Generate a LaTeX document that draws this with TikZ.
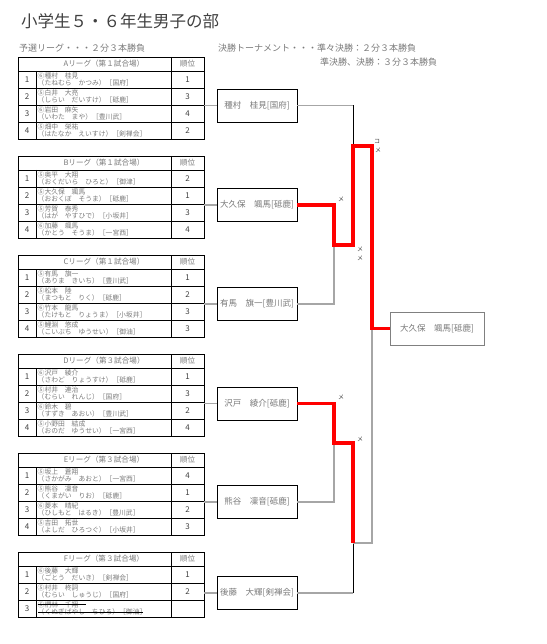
\documentclass[tikz,border=0pt]{standalone}
\usepackage{fontspec}
\setmainfont{Noto Sans CJK JP}
\usetikzlibrary{positioning}
\definecolor{txt}{HTML}{7A7A7A}
\definecolor{dtxt}{HTML}{404040}
\definecolor{lgray}{HTML}{A6A6A6}
\tikzset{>=stealth,
  tbl/.style={line width=0.6pt},
  hd/.style={text=txt, font=\fontsize{7.6}{8}\selectfont, inner sep=0pt},
  num/.style={text=dtxt, font=\fontsize{8}{8}\selectfont, inner sep=0pt},
  pname/.style={text=txt, align=left, font=\fontsize{6.8}{7.6}\selectfont, inner sep=0.5pt, anchor=west},
  pbox/.style={draw, line width=0.7pt, minimum width=80pt, minimum height=33pt, inner sep=0pt, text=txt, font=\fontsize{8.5}{9}\selectfont},
  lose/.style={line width=1.3pt, draw=lgray},
  win/.style={line width=3.3pt, draw=red},
  mk/.style={text=dtxt, font=\fontsize{6}{6}\selectfont, inner sep=0pt}}

\newcommand{\lghead}[3]{%
  \draw[tbl] (18,#2) rectangle (204,#2+14);
  \draw[tbl] (171,#2) -- (171,#2+14);
  \node[hd] (#1hd) at (104,#2+7) {#1リーグ（第#3試合場）};
  \node[hd] (#1rk) at (187.5,#2+7) {順位};}
\newcommand{\plrow}[7]{%
  \pgfmathsetmacro{\ry}{#2+14+17*(#3-1)}
  \draw[tbl] (18,\ry) rectangle (204,\ry+17);
  \draw[tbl] (36,\ry) -- (36,\ry+17) (171,\ry) -- (171,\ry+17);
  \node[num] (#1#3no) at (27,\ry+8.5) {#3};
  \node[pname] (#1#3nm) at (37,\ry+8.5) {#4\\（#5）［#6］};
  \node[num] (#1#3rk) at (187.5,\ry+8.5) {#7};}

\begin{document}
\begin{tikzpicture}[x=1pt, y=-1pt]
    \useasboundingbox (0,0) rectangle (546,644);
    \node[anchor=west, text=dtxt, font=\fontsize{16.5}{18}\selectfont, inner sep=0pt] (title) at (21,21) {小学生５・６年生男子の部};
    \node[anchor=west, text=txt, font=\fontsize{9}{9}\selectfont, inner sep=0pt] (sub1) at (19,48) {予選リーグ・・・２分３本勝負};
    \node[anchor=west, text=txt, font=\fontsize{9}{9}\selectfont, inner sep=0pt] (sub2) at (218,48) {決勝トーナメント・・・準々決勝：２分３本勝負};
    \node[anchor=west, text=txt, font=\fontsize{9}{9}\selectfont, inner sep=0pt] (sub3) at (320,62) {準決勝、決勝：３分３本勝負};

    \lghead{A}{57}{１}
    \plrow{A}{57}{1}{⑥種村　桂見}{たねむら　かつみ}{国府}{1}
    \plrow{A}{57}{2}{⑤白井　大亮}{しらい　だいすけ}{砥鹿}{3}
    \plrow{A}{57}{3}{⑥岩田　麻矢}{いわた　まや}{豊川武}{4}
    \plrow{A}{57}{4}{⑤畑中　栄祐}{はたなか　えいすけ}{剣禅会}{2}

    \lghead{B}{156}{１}
    \plrow{B}{156}{1}{⑤奥平　大翔}{おくだいら　ひろと}{御津}{2}
    \plrow{B}{156}{2}{⑤大久保　颯馬}{おおくぼ　そうま}{砥鹿}{1}
    \plrow{B}{156}{3}{⑤芳賀　泰秀}{はが　やすひで}{小坂井}{3}
    \plrow{B}{156}{4}{⑥加藤　颯馬}{かとう　そうま}{一宮西}{4}

    \lghead{C}{255}{１}
    \plrow{C}{255}{1}{⑤有馬　旗一}{ありま　きいち}{豊川武}{1}
    \plrow{C}{255}{2}{⑤松本　陸}{まつもと　りく}{砥鹿}{2}
    \plrow{C}{255}{3}{⑥竹本　龍馬}{たけもと　りょうま}{小坂井}{3}
    \plrow{C}{255}{4}{⑤鯉淵　悠成}{こいぶち　ゆうせい}{御油}{3}

    \lghead{D}{354}{３}
    \plrow{D}{354}{1}{⑥沢戸　綾介}{さわど　りょうすけ}{砥鹿}{1}
    \plrow{D}{354}{2}{⑤村井　連治}{むらい　れんじ}{国府}{3}
    \plrow{D}{354}{3}{⑥鈴木　碧}{すずき　あおい}{豊川武}{2}
    \plrow{D}{354}{4}{⑤小野田　結成}{おのだ　ゆうせい}{一宮西}{4}

    \lghead{E}{453}{３}
    \plrow{E}{453}{1}{⑤坂上　蒼翔}{さかがみ　あおと}{一宮西}{4}
    \plrow{E}{453}{2}{⑤熊谷　凜音}{くまがい　りお}{砥鹿}{1}
    \plrow{E}{453}{3}{⑥菱本　晴紀}{ひしもと　はるき}{豊川武}{2}
    \plrow{E}{453}{4}{⑤吉田　拓世}{よしだ　ひろつぐ}{小坂井}{3}

    \lghead{F}{552}{３}
    \plrow{F}{552}{1}{⑥後藤　大輝}{ごとう　だいき}{剣禅会}{1}
    \plrow{F}{552}{2}{⑤村井　柊詞}{むらい　しゅうじ}{国府}{2}
    \plrow{F}{552}{3}{⑤椚林　千翔}{くぬぎばやし　ちひろ}{御油}{}
    \draw[line width=0.6pt] (38,604.5) -- (86,604.5);
    \draw[line width=0.6pt] (38,612.5) -- (143,612.5);

    \node[pbox] (ta) at (257,105.5) {種村　桂見[国府]};
    \node[pbox] (tb) at (257,205) {大久保　颯馬[砥鹿]};
    \node[pbox] (tc) at (257,304) {有馬　旗一[豊川武]};
    \node[pbox] (td) at (257,403.5) {沢戸　綾介[砥鹿]};
    \node[pbox] (te) at (257,502) {熊谷　凜音[砥鹿]};
    \node[pbox] (tf) at (257,593) {後藤　大輝[剣禅会]};
    \node[pbox, draw=gray, line width=1pt, minimum width=94pt] (fin) at (437,328.5) {大久保　颯馬[砥鹿]};

    \coordinate (Aout) at (204,105.5);
    \coordinate (Bout) at (204,205);
    \coordinate (Cout) at (204,304);
    \coordinate (Dout) at (204,403.5);
    \coordinate (Eout) at (204,502);
    \coordinate (Fout) at (204,593);
    \coordinate (j1) at (334,245);
    \coordinate (j2) at (353,146);
    \coordinate (j3) at (372,146);
    \coordinate (j4) at (334,443);
    \coordinate (j5) at (353,543);

    \draw[lose] (Aout) -- (ta.west);
    \draw[lose] (Bout) -- (tb.west);
    \draw[lose] (Cout) -- (tc.west);
    \draw[lose] (Dout) -- (td.west);
    \draw[lose] (Eout) -- (te.west);
    \draw[lose] (Fout) -- (tf.west);

    \draw[lose] (ta.east) -- (ta.east -| j2);
    \draw[line width=0.8pt] (ta.east -| j2) -- (j2);
    \draw[lose] (tc.east) -| (j1);
    \draw[lose] (te.east) -| (j4);
    \draw[lose] (tf.east) -- (tf.east -| j5);
    \draw[line width=0.8pt] (tf.east -| j5) -- (j5);
    \draw[lose] (j5) -| (fin.west -| j3);
    \draw[win] (tb.east) -| (j1) -| (j2) -- (j3) |- (fin.west);
    \draw[win] (td.east) -| (j4) -| (j5);

    \node[mk] (m1) at (377,141) {コ};
    \node[mk] (m2) at (378,150) {メ};
    \node[mk] (m3) at (341,199) {メ};
    \node[mk] (m4) at (360,249) {メ};
    \node[mk] (m5) at (360,258) {メ};
    \node[mk] (m6) at (341,397) {メ};
    \node[mk] (m7) at (360,439) {メ};
\end{tikzpicture}
\end{document}
